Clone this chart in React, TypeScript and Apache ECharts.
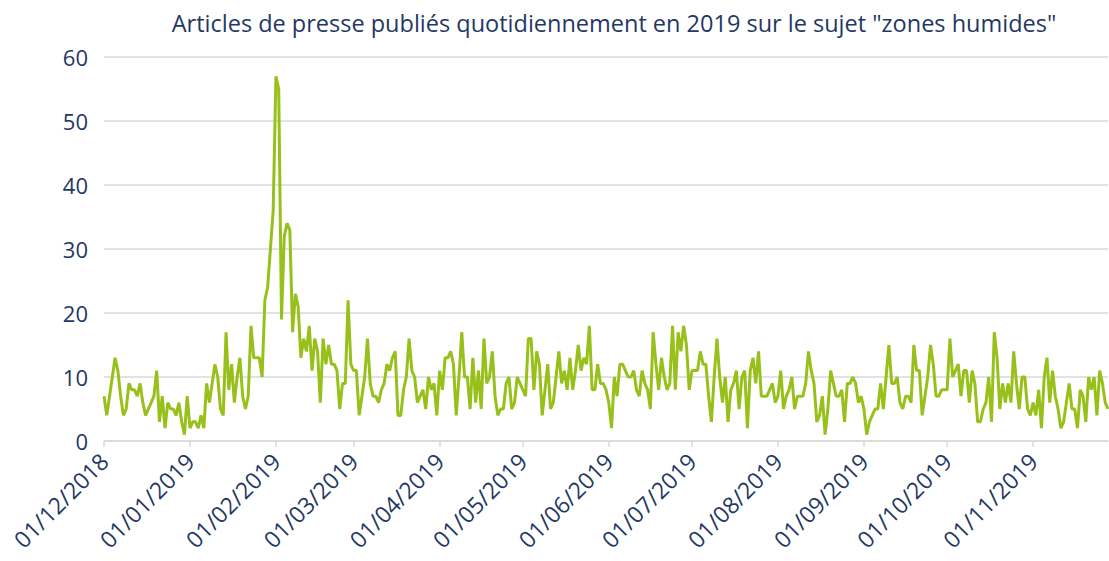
import React, { useEffect, useRef } from "react";
import * as echarts from "echarts";

const TITLE = 'Articles de presse publiés quotidiennement en 2019 sur le sujet "zones humides"';

const START_DATE = [2018, 12, 1];

const dec2018 = [7,4,7,10,13,11,7,4,5,9,8,8,7,9,6,4,5,6,7,11,3,7,2,6,5,5,4,6,3,1,7];
const jan2019 = [2,3,3,2,4,2,9,6,9,12,10,5,4,17,8,12,6,10,13,7,5,7,18,13,13,13,10,22,24,30,36];
const feb2019 = [57,55,19,32,34,33,17,23,21,13,16,14,18,11,16,14,6,16,12,15,12,12,11,5,9,9,22,12];
const mar2019 = [11,11,4,7,10,16,9,7,7,6,8,9,12,11,13,14,4,4,8,10,16,11,10,6,7,8,5,10,8,9,4];
const apr2019 = [11,8,13,13,14,12,4,10,17,10,10,5,13,6,11,5,16,9,10,14,7,4,5,5,9,10,5,6,10,9];
const may2019 = [8,7,16,16,8,14,12,4,8,12,5,6,10,14,9,11,8,13,8,11,15,11,13,12,18,8,8,12,9,9,8];
const jun2019 = [6,2,10,7,12,12,11,10,10,11,8,7,11,9,8,5,17,12,8,13,10,8,9,18,8,17,14,18,15,8];
const jul2019 = [11,11,11,14,12,12,7,3,10,16,10,6,10,3,8,9,11,5,10,11,2,11,13,9,14,7,7,7,8,9,6];
const aug2019 = [7,11,5,7,8,10,5,7,7,7,9,14,11,9,3,4,7,1,5,11,9,7,7,8,3,9,9,10,9,6,7];
const sep2019 = [5,1,3,4,5,5,9,5,10,15,9,9,10,6,5,7,7,6,15,11,11,4,7,10,15,12,7,7,8,8];
const oct2019 = [8,16,10,11,12,7,11,11,6,11,9,3,3,5,6,10,3,17,13,5,9,6,9,6,14,9,5,10,10,5,4];
const nov2019 = [6,4,8,2,10,13,6,11,7,5,2,3,6,9,5,5,2,8,7,3,10,8,10,4,11,9,6,5];

const Y_MIN = 0;
const Y_MAX = 60;
const Y_STEP = 10;

const values: number[] = [
  ...dec2018, ...jan2019, ...feb2019, ...mar2019, ...apr2019, ...may2019,
  ...jun2019, ...jul2019, ...aug2019, ...sep2019, ...oct2019, ...nov2019,
];

function pad(n: number) {
  return n < 10 ? "0" + n : String(n);
}

const dates: string[] = values.map((_, i) => {
  const d = new Date(Date.UTC(START_DATE[0], START_DATE[1] - 1, START_DATE[2] + i));
  return pad(d.getUTCDate()) + "/" + pad(d.getUTCMonth() + 1) + "/" + d.getUTCFullYear();
});

const NAVY = "#1F3864";
const GREEN = "#97C11A";
const FONT = "'Open Sans', 'Noto Sans', sans-serif";

export default function App() {
  const ref = useRef<HTMLDivElement>(null);
  useEffect(() => {
    if (!ref.current) return;
    const chart = echarts.init(ref.current, null, { renderer: "svg" });
    const isMonthStart = (_i: number, v: string) => v.startsWith("01/");
    chart.setOption({
      animation: false,
      backgroundColor: "#ffffff",
      title: {
        text: TITLE,
        left: 609,
        textAlign: "center",
        top: 6,
        textStyle: { color: NAVY, fontSize: 23.5, fontWeight: "normal", fontFamily: FONT },
      },
      grid: { left: 104, right: 1, top: 57, bottom: 120, containLabel: false },
      xAxis: {
        type: "category",
        data: dates,
        boundaryGap: false,
        axisLine: { lineStyle: { color: "#d9d9d9", width: 1.5 } },
        axisTick: {
          interval: isMonthStart,
          length: 6,
          lineStyle: { color: "#d9d9d9", width: 1.5 },
        },
        axisLabel: {
          interval: isMonthStart,
          rotate: 45,
          color: NAVY,
          fontSize: 23,
          fontFamily: FONT,
          margin: 16,
        },
      },
      yAxis: {
        type: "value",
        min: Y_MIN,
        max: Y_MAX,
        interval: Y_STEP,
        axisLine: { show: false },
        axisTick: { show: false },
        splitLine: { lineStyle: { color: "#d9d9d9", width: 1.5 } },
        axisLabel: { color: NAVY, fontSize: 22, fontFamily: FONT, margin: 16 },
      },
      series: [
        {
          type: "line",
          data: values,
          showSymbol: false,
          lineStyle: { color: GREEN, width: 3 },
          itemStyle: { color: GREEN },
        },
      ],
    });
    return () => chart.dispose();
  }, []);
  return (
    <div
      ref={ref}
      style={{ position: "absolute", left: 0, top: 0, width: 1109, height: 561 }}
    />
  );
}
